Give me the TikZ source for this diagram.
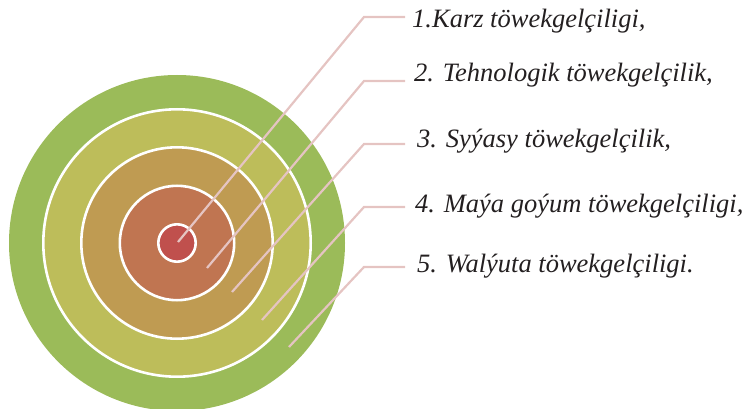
\documentclass[tikz,border=0pt]{standalone}
\usepackage{fontspec}
\setmainfont{Liberation Serif}
\begin{document}
\begin{tikzpicture}[x=1pt,y=-1pt,
  ring/.style={draw=white,line width=2.6pt},
  leader/.style={draw=leadc,line width=2.2pt},
  lbl/.style={anchor=base west,inner sep=0pt,text=txtc,font=\fontsize{26.5}{30}\selectfont\itshape}]
\definecolor{c1}{HTML}{C0504D}
\definecolor{c2}{HTML}{C07551}
\definecolor{c3}{HTML}{BF9B52}
\definecolor{c4}{HTML}{BDBD5A}
\definecolor{c5}{HTML}{9BBB59}
\definecolor{leadc}{HTML}{E5C4C2}
\definecolor{txtc}{HTML}{231F20}
\useasboundingbox (0,0) rectangle (747,409);
\begin{scope}
\clip (0,0) rectangle (747,409);
\fill[c5] (177,243) circle (168);
\end{scope}
\filldraw[ring,fill=c4] (177,243) circle (133.7);
\filldraw[ring,fill=c3] (177,243) circle (95.7);
\filldraw[ring,fill=c2] (177,243) circle (57.2);
\filldraw[ring,fill=c1] (177,243) circle (18.7);
% leader ends
\coordinate (e1) at (178,242);
\coordinate (e2) at (207,268);
\coordinate (e3) at (232,292);
\coordinate (e4) at (262,320);
\coordinate (e5) at (289,347);
\coordinate (b1) at (364,17);
\coordinate (b2) at (364,81);
\coordinate (b3) at (364,144);
\coordinate (b4) at (364,207);
\coordinate (b5) at (364,267);
\coordinate (h1) at (405,17);
\coordinate (h2) at (405,81);
\coordinate (h3) at (405,144);
\coordinate (h4) at (405,207);
\coordinate (h5) at (405,267);
\draw[leader] (e1) -- (b1) -- (h1);
\draw[leader] (e2) -- (b2) -- (h2);
\draw[leader] (e3) -- (b3) -- (h3);
\draw[leader] (e4) -- (b4) -- (h4);
\draw[leader] (e5) -- (b5) -- (h5);
\node[lbl] (t1) at (412,28) {1.Karz töwekgelçiligi,};
\node[lbl] (t2) at (414,82) {2. Tehnologik töwekgelçilik,};
\node[lbl] (t3) at (417,147) {3. Syýasy töwekgelçilik,};
\node[lbl] (t4) at (415,212) {4. Maýa goýum töwekgelçiligi,};
\node[lbl] (t5) at (417,272) {5. Walýuta töwekgelçiligi.};
\end{tikzpicture}
\end{document}
